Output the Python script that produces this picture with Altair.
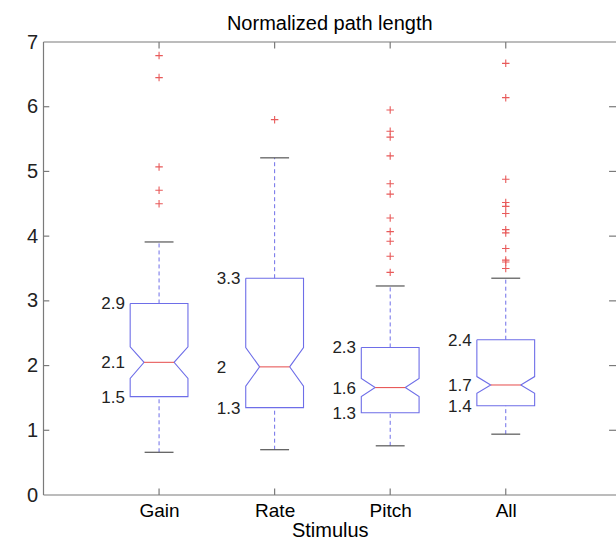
import altair as alt
import pandas as pd

# ---- data ----
categories = ["Gain", "Rate", "Pitch", "All"]
positions = [1, 2, 3, 4]
q1 = [1.52, 1.35, 1.27, 1.38]
median = [2.05, 1.98, 1.66, 1.70]
q3 = [2.96, 3.35, 2.28, 2.40]
notch_lo = [1.80, 1.68, 1.52, 1.57]
notch_hi = [2.29, 2.28, 1.80, 1.83]
whisker_lo = [0.66, 0.70, 0.76, 0.94]
whisker_hi = [3.91, 5.21, 3.23, 3.35]

outliers_gain = [6.79, 6.45, 5.07, 4.71, 4.50]
outliers_rate = [5.80]
outliers_pitch = [5.95, 5.62, 5.53, 5.24, 4.81, 4.65, 4.28, 4.07, 3.92, 3.69, 3.44]
outliers_all = [6.67, 6.14, 4.88, 4.52, 4.46, 4.35, 4.10, 4.05, 3.81, 3.63, 3.60, 3.50]

label_q3 = ["2.9", "3.3", "2.3", "2.4"]
label_med = ["2.1", "2", "1.6", "1.7"]
label_q1 = ["1.5", "1.3", "1.3", "1.4"]

y_ticks = [0, 1, 2, 3, 4, 5, 6, 7]

# ---- geometry parameters ----
X_MAX = 4.954
Y_MAX = 7
BOX_HW = 0.25     # half box width (category units)
NOTCH_HW = 0.13   # half width at the notch
CAP_HW = 0.125
FONT = "Liberation Sans"
BLUE = "#6e6ee8"
RED = "#e85a5a"
AX = "#7a7a7a"

xs = alt.Scale(domain=[0, X_MAX], nice=False, zero=False)
ys = alt.Scale(domain=[0, Y_MAX], nice=False, zero=False)

# notched box outlines
rows = []
for i, c in enumerate(categories):
    p = positions[i]
    verts = [
        (p - BOX_HW, q3[i]), (p + BOX_HW, q3[i]), (p + BOX_HW, notch_hi[i]),
        (p + NOTCH_HW, median[i]), (p + BOX_HW, notch_lo[i]), (p + BOX_HW, q1[i]),
        (p - BOX_HW, q1[i]), (p - BOX_HW, notch_lo[i]), (p - NOTCH_HW, median[i]),
        (p - BOX_HW, notch_hi[i]), (p - BOX_HW, q3[i]),
    ]
    for k, (vx, vy) in enumerate(verts):
        rows.append({"cat": c, "order": k, "x": vx, "y": vy})
box_df = pd.DataFrame(rows)

stats = pd.DataFrame({
    "cat": categories, "pos": positions, "q1": q1, "med": median, "q3": q3,
    "wlo": whisker_lo, "whi": whisker_hi,
})
stats["nl"] = stats["pos"] - NOTCH_HW
stats["nr"] = stats["pos"] + NOTCH_HW
stats["cl"] = stats["pos"] - CAP_HW
stats["cr"] = stats["pos"] + CAP_HW

out_rows = []
for c, vals in zip(categories, [outliers_gain, outliers_rate, outliers_pitch, outliers_all]):
    p = positions[categories.index(c)]
    for v in vals:
        out_rows.append({"cat": c, "pos": p, "v": v})
out_df = pd.DataFrame(out_rows)

lab_rows = []
for i in range(len(categories)):
    lab_rows.append({"x": positions[i] - 0.5, "y": q3[i], "t": label_q3[i]})
    lab_rows.append({"x": positions[i] - 0.5, "y": median[i], "t": label_med[i]})
    lab_rows.append({"x": positions[i] - 0.5, "y": q1[i], "t": label_q1[i]})
lab_df = pd.DataFrame(lab_rows)

# frame and inward ticks
frame_rows = [
    {"x": 0, "x2": X_MAX, "y": 0, "y2": 0},
    {"x": 0, "x2": X_MAX, "y": Y_MAX, "y2": Y_MAX},
    {"x": 0, "x2": 0, "y": 0, "y2": Y_MAX},
]
for t in y_ticks[1:-1]:
    frame_rows.append({"x": 0, "x2": 0.05, "y": t, "y2": t})
    frame_rows.append({"x": X_MAX - 0.06, "x2": X_MAX, "y": t, "y2": t})
for p in positions:
    frame_rows.append({"x": p, "x2": p, "y": 0, "y2": 0.1})
    frame_rows.append({"x": p, "x2": p, "y": Y_MAX - 0.1, "y2": Y_MAX})
frame_df = pd.DataFrame(frame_rows)

label_expr = "['', 'Gain', 'Rate', 'Pitch', 'All'][datum.value]"

x_axis = alt.Axis(values=positions, labelExpr=label_expr, ticks=False, domain=False,
                  grid=False, labelFontSize=19, labelFont=FONT, labelColor="black",
                  labelPadding=6, title="Stimulus", titleFontSize=20, titleFont=FONT,
                  titleFontWeight="normal", titleColor="black", titlePadding=0,
                  labelAngle=0)
y_axis = alt.Axis(values=y_ticks, format="d", ticks=False, domain=False, grid=False,
                  labelFontSize=20, labelFont=FONT, labelColor="#222222",
                  labelPadding=6, title=None)

frame = alt.Chart(frame_df).mark_rule(color=AX, strokeWidth=1.2).encode(
    x=alt.X("x:Q", scale=xs, axis=x_axis),
    x2="x2:Q",
    y=alt.Y("y:Q", scale=ys, axis=y_axis),
    y2="y2:Q",
)

boxes = alt.Chart(box_df).mark_line(color=BLUE, strokeWidth=1.1).encode(
    x=alt.X("x:Q", scale=xs),
    y=alt.Y("y:Q", scale=ys),
    order="order:Q",
    detail="cat:N",
)

medians = alt.Chart(stats).mark_rule(color=RED, strokeWidth=1.1).encode(
    x=alt.X("nl:Q", scale=xs), x2="nr:Q", y=alt.Y("med:Q", scale=ys)
)

whisk_hi = alt.Chart(stats).mark_rule(color=BLUE, strokeDash=[4, 3], strokeWidth=1).encode(
    x=alt.X("pos:Q", scale=xs), y=alt.Y("q3:Q", scale=ys), y2="whi:Q"
)
whisk_lo = alt.Chart(stats).mark_rule(color=BLUE, strokeDash=[4, 3], strokeWidth=1).encode(
    x=alt.X("pos:Q", scale=xs), y=alt.Y("wlo:Q", scale=ys), y2="q1:Q"
)
cap_hi = alt.Chart(stats).mark_rule(color="#555555", strokeWidth=1.2).encode(
    x=alt.X("cl:Q", scale=xs), x2="cr:Q", y=alt.Y("whi:Q", scale=ys)
)
cap_lo = alt.Chart(stats).mark_rule(color="#555555", strokeWidth=1.2).encode(
    x=alt.X("cl:Q", scale=xs), x2="cr:Q", y=alt.Y("wlo:Q", scale=ys)
)

outl = alt.Chart(out_df).mark_point(
    shape="M-1,0H1M0,-1V1", size=56, filled=False, color=RED, strokeWidth=1.1, opacity=1
).encode(x=alt.X("pos:Q", scale=xs), y=alt.Y("v:Q", scale=ys))

labels = alt.Chart(lab_df).mark_text(
    align="left", baseline="middle", fontSize=17, font=FONT, color="#222222", dy=1
).encode(x=alt.X("x:Q", scale=xs), y=alt.Y("y:Q", scale=ys), text="t:N")

chart = alt.layer(
    frame, whisk_hi, whisk_lo, cap_hi, cap_lo, boxes, medians, outl, labels
).properties(
    width=572.5,
    height=453,
    title=alt.TitleParams("Normalized path length", fontSize=20, font=FONT,
                          fontWeight="normal", color="black", anchor="middle",
                          baseline="alphabetic", offset=11, dy=29),
    autosize=alt.AutoSizeParams(type="none"),
    padding={"left": 43.5, "top": 42, "right": 0, "bottom": 50},
    background="white",
).configure_view(stroke="transparent")

chart.save("out.html", embed_options={"renderer": "svg", "actions": False})
